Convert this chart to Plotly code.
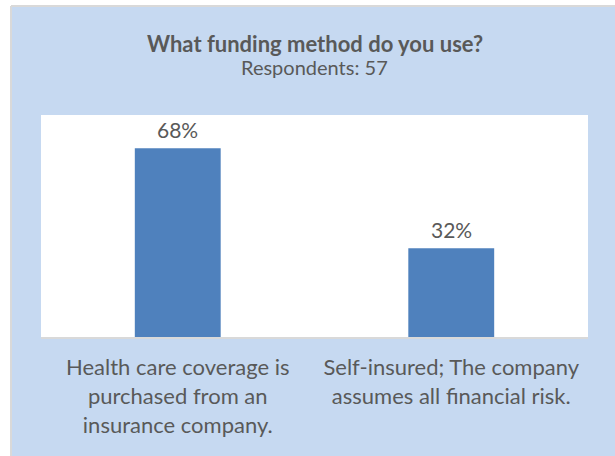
import plotly.graph_objects as go

# Survey results
categories = [
    "Health care coverage is<br>purchased from an<br>insurance company.",
    "Self-insured; The company<br>assumes all financial risk.",
]
shares = [68, 32]
title_text = "What funding method do you use?"
subtitle_text = "Respondents: 57"

W, H = 615, 456
L, R, T, B = 41, 27, 115, 119
plot_h = H - T - B

BAR = "#4f81bd"
PANEL = "#c6d9f1"
TEXT = "#595959"
FONT = "Lato"


def py_to_paper(py):
    return (H - B - py) / plot_h


fig = go.Figure(
    go.Bar(
        x=categories,
        y=shares,
        marker=dict(color=BAR, line=dict(width=0)),
        width=0.314,
        hoverinfo="skip",
    )
)

# value labels above bars
for c, v in zip(categories, shares):
    fig.add_annotation(
        x=c, y=v, xref="x", yref="y", text=f"{v}%",
        showarrow=False, yanchor="bottom", yshift=4,
        font=dict(family=FONT, size=21, color=TEXT),
    )

fig.add_annotation(
    x=0.5, y=py_to_paper(43), xref="paper", yref="paper",
    text=f"<b>{title_text}</b>", showarrow=False, yanchor="middle",
    font=dict(family=FONT, size=22, color=TEXT),
)
fig.add_annotation(
    x=0.5, y=py_to_paper(67), xref="paper", yref="paper",
    text=subtitle_text, showarrow=False, yanchor="middle",
    font=dict(family=FONT, size=20, color=TEXT),
)

# outer panel: white margin strip on top/left with a grey frame line
fig.add_shape(type="rect", xref="paper", yref="paper",
              x0=(0 - L) / (W - L - R), x1=(11 - L) / (W - L - R),
              y0=py_to_paper(H + 5), y1=py_to_paper(-5),
              fillcolor="white", line=dict(width=0), layer="above")
fig.add_shape(type="rect", xref="paper", yref="paper",
              x0=(0 - L) / (W - L - R), x1=(W + 5 - L) / (W - L - R),
              y0=py_to_paper(6), y1=py_to_paper(-5),
              fillcolor="white", line=dict(width=0), layer="above")
fig.add_shape(type="line", xref="paper", yref="paper",
              x0=(11 - L) / (W - L - R), x1=(11 - L) / (W - L - R),
              y0=py_to_paper(6), y1=py_to_paper(H + 5),
              line=dict(color="#d9d9d9", width=2), layer="above")
fig.add_shape(type="line", xref="paper", yref="paper",
              x0=(11 - L) / (W - L - R), x1=(W + 5 - L) / (W - L - R),
              y0=py_to_paper(6), y1=py_to_paper(6),
              line=dict(color="#d9d9d9", width=2), layer="above")

fig.update_layout(
    width=W, height=H,
    margin=dict(l=L, r=R, t=T, b=B, pad=0),
    paper_bgcolor=PANEL,
    plot_bgcolor="white",
    showlegend=False,
    bargap=0.686,
    font=dict(family=FONT, color=TEXT),
)
fig.update_xaxes(
    showline=True, linecolor="#d9d9d9", linewidth=2,
    ticks="", showgrid=False,
    tickfont=dict(family=FONT, size=22, color=TEXT),
    ticklabelstandoff=10,
)
fig.update_yaxes(
    range=[0, 80], visible=False, showgrid=False, zeroline=False,
)

fig.write_html("out.html")
